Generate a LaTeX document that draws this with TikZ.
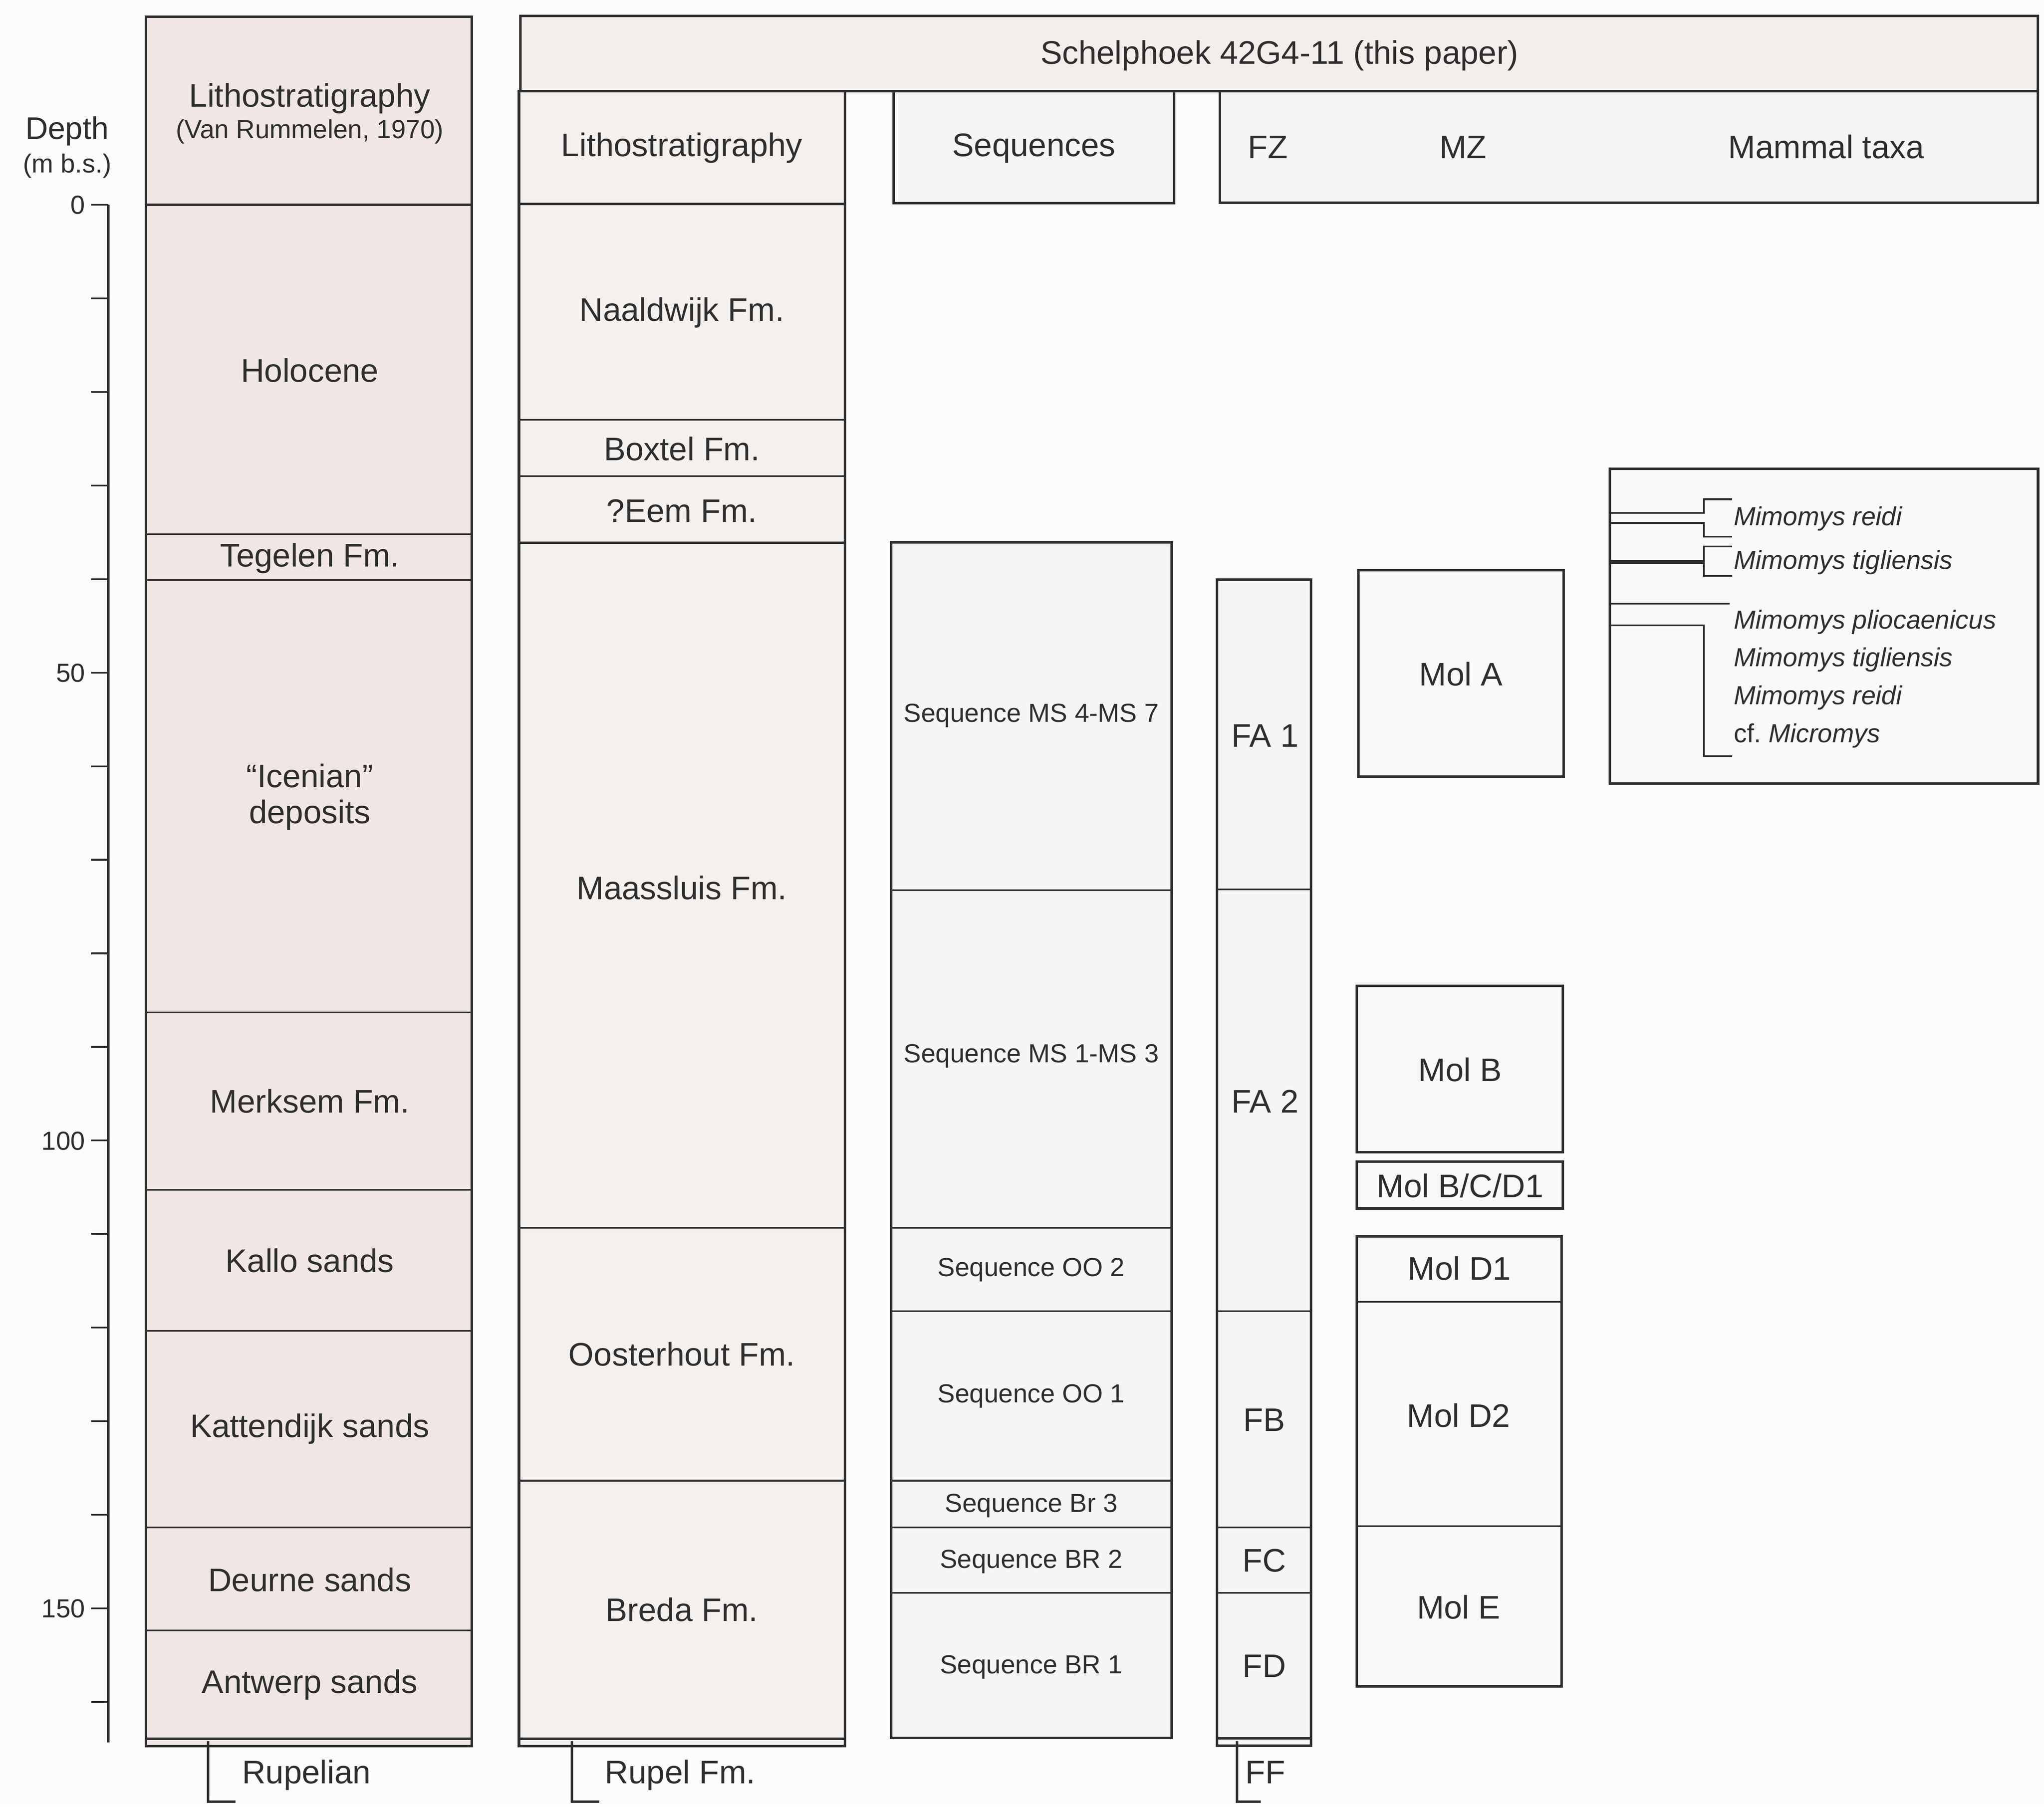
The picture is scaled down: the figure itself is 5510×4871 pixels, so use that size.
\documentclass[tikz,border=0pt]{standalone}
\usepackage{tikz}
\usepackage{fontspec}
\setmainfont{Liberation Sans}
\definecolor{pagebg}{HTML}{FCFCFC}
\definecolor{colonefill}{HTML}{F0E7E5}
\definecolor{coltwofill}{HTML}{F4F0EE}
\definecolor{headfill}{HTML}{F3EEEB}
\definecolor{seqfill}{HTML}{F6F5F4}
\definecolor{molfill}{HTML}{F9F9F9}
\definecolor{ink}{HTML}{2E2E2E}
\begin{document}
\begin{tikzpicture}[x=0.01cm,y=-0.01cm,
  bigtxt/.style={font=\fontsize{25}{30}\selectfont, text=ink, inner sep=0pt, text height=17.9pt, text depth=0pt},
  smalltxt/.style={font=\fontsize{20}{24}\selectfont, text=ink, inner sep=0pt, text height=14.3pt, text depth=0pt},
  taxon/.style={font=\fontsize{20}{24}\selectfont\itshape, text=ink, inner sep=0pt, text height=14.3pt, text depth=0pt, anchor=west},
  ln/.style={draw=ink, line width=1.3pt},
  thk/.style={draw=ink, line width=1.9pt},
  vthk/.style={draw=ink, line width=3pt},
]
\useasboundingbox (0,0) rectangle (5510,4871);
\fill[pagebg] (0,0) rectangle (5510,4871);

% ---------------- Depth axis ----------------
\node[smalltxt, font=\fontsize{24}{28}\selectfont, text height=17.2pt] (depthlbl) at (181,345) {Depth};
\node[smalltxt] (depthunit) at (181,440) {(m b.s.)};
\coordinate (axtop) at (292,552);
\coordinate (axbot) at (292,4698);
\draw[thk] (axtop) -- (axbot);
\foreach \d in {0,10,...,160} {
  \coordinate (tk\d) at (292,552+25.23*\d);
  \draw[ln] (tk\d) -- ++(-46,0);
}
\foreach \d in {0,50,100,150} {
  \node[smalltxt, anchor=east] (dl\d) at (230,552+25.23*\d) {\d};
}

% ---------------- Column 1: Van Rummelen ----------------
\filldraw[colonefill, thk] (393,45) rectangle (1272,4708);
\foreach \yy in {1440,1564,2730,3208,3588,4118,4396} {
  \draw[ln] (393,\yy) -- (1272,\yy);
}
\draw[thk] (393,552) -- (1272,552);
\draw[thk] (393,4688) -- (1272,4688);
\node[bigtxt] (c1head) at (835,257) {Lithostratigraphy};
\node[smalltxt] (c1ref) at (835,348) {(Van Rummelen, 1970)};
\node[bigtxt] (holo) at (835,998) {Holocene};
\node[bigtxt] (tege) at (835,1496) {Tegelen Fm.};
\node[bigtxt] (icen) at (835,2091) {``Icenian''};
\node[bigtxt] (depo) at (835,2189) {deposits};
\node[bigtxt] (merk) at (835,2969) {Merksem Fm.};
\node[bigtxt] (kall) at (835,3398) {Kallo sands};
\node[bigtxt] (katt) at (835,3844) {Kattendijk sands};
\node[bigtxt] (deur) at (835,4259) {Deurne sands};
\node[bigtxt] (antw) at (835,4533) {Antwerp sands};
\coordinate (rupA) at (561,4695);
\coordinate (rupB) at (561,4858);
\coordinate (rupC) at (635,4858);
\draw[thk] (rupA) -- (rupB) -- (rupC);
\node[bigtxt, anchor=west] (rupl) at (652,4777) {Rupelian};

% ---------------- Schelphoek header ----------------
\filldraw[headfill, thk] (1403,43) rectangle (5493,246);
\node[bigtxt] (schel) at (3449,141) {Schelphoek 42G4-11 (this paper)};

% ---------------- Column 2: Lithostratigraphy (this paper) ----------------
\filldraw[coltwofill, thk] (1399,246) rectangle (2278,4708);
\draw[thk] (1399,550) -- (2278,550);
\foreach \yy in {1132,1284,3310,3992} {
  \draw[ln] (1399,\yy) -- (2278,\yy);
}
\draw[thk] (1399,1463) -- (2278,1463);
\draw[thk] (1399,4688) -- (2278,4688);
\node[bigtxt] (c2head) at (1838,390) {Lithostratigraphy};
\node[bigtxt] (naal) at (1838,834) {Naaldwijk Fm.};
\node[bigtxt] (boxt) at (1838,1210) {Boxtel Fm.};
\node[bigtxt] (eem) at (1838,1376) {?Eem Fm.};
\node[bigtxt] (maas) at (1838,2393) {Maassluis Fm.};
\node[bigtxt] (oost) at (1838,3651) {Oosterhout Fm.};
\node[bigtxt] (bred) at (1838,4340) {Breda Fm.};
\coordinate (rpfA) at (1542,4695);
\coordinate (rpfB) at (1542,4858);
\coordinate (rpfC) at (1616,4858);
\draw[thk] (rpfA) -- (rpfB) -- (rpfC);
\node[bigtxt, anchor=west] (rupfm) at (1630,4777) {Rupel Fm.};

% ---------------- Sequences ----------------
\filldraw[seqfill, thk] (2409,246) rectangle (3165,548);
\node[bigtxt] (seqhead) at (2787,390) {Sequences};
\filldraw[seqfill, thk] (2402,1462) rectangle (3158,4686);
\foreach \yy in {2400,3310,3535,3992,4118,4294} {
  \draw[ln] (2402,\yy) -- (3158,\yy);
}
\node[smalltxt] (s47) at (2780,1922) {Sequence MS 4-MS 7};
\node[smalltxt] (s13) at (2780,2839) {Sequence MS 1-MS 3};
\node[smalltxt] (soo2) at (2780,3416) {Sequence OO 2};
\node[smalltxt] (soo1) at (2780,3756) {Sequence OO 1};
\node[smalltxt] (sbr3) at (2780,4052) {Sequence Br 3};
\node[smalltxt] (sbr2) at (2780,4203) {Sequence BR 2};
\node[smalltxt] (sbr1) at (2780,4487) {Sequence BR 1};

% ---------------- FZ / MZ / Mammal header ----------------
\filldraw[seqfill, thk] (3288,246) rectangle (5493,547);
\node[bigtxt] (fzh) at (3418,395) {FZ};
\node[bigtxt] (mzh) at (3944,395) {MZ};
\node[bigtxt] (mth) at (4923,395) {Mammal taxa};

% ---------------- FZ column ----------------
\filldraw[seqfill, thk] (3281,1563) rectangle (3534,4707);
\foreach \yy in {2398,3535,4118,4294} {
  \draw[ln] (3281,\yy) -- (3534,\yy);
}
\draw[thk] (3281,4687) -- (3534,4687);
\node[bigtxt] (fa1) at (3410,1982) {FA 1};
\node[bigtxt] (fa2) at (3410,2969) {FA 2};
\node[bigtxt] (fb) at (3408,3827) {FB};
\node[bigtxt] (fc) at (3408,4206) {FC};
\node[bigtxt] (fd) at (3408,4491) {FD};
\coordinate (ffA) at (3335,4695);
\coordinate (ffB) at (3335,4858);
\coordinate (ffC) at (3398,4858);
\draw[thk] (ffA) -- (ffB) -- (ffC);
\node[bigtxt, anchor=west] (ff) at (3357,4777) {FF};

% ---------------- MZ boxes ----------------
\filldraw[molfill, thk] (3662,1537) rectangle (4215,2094);
\node[bigtxt] (mola) at (3938,1817) {Mol A};
\filldraw[molfill, thk] (3658,2658) rectangle (4213,3107);
\node[bigtxt] (molb) at (3936,2884) {Mol B};
\filldraw[molfill, thk] (3658,3132) rectangle (4213,3258);
\node[bigtxt] (molbcd) at (3936,3197) {Mol B/C/D1};
\filldraw[molfill, thk] (3657,3333) rectangle (4210,4547);
\draw[ln] (3657,3510) -- (4210,3510);
\draw[ln] (3657,4115) -- (4210,4115);
\node[bigtxt] (mold1) at (3934,3419) {Mol D1};
\node[bigtxt] (mold2) at (3932,3816) {Mol D2};
\node[bigtxt] (mole) at (3932,4333) {Mol E};

% ---------------- Mammal taxa ----------------
\filldraw[molfill, thk] (4340,1264) rectangle (5494,2113);
\draw[ln] (4340,1383) -- (4593,1383) -- (4593,1346) -- (4669,1346);
\draw[ln] (4340,1410) -- (4593,1410) -- (4593,1447) -- (4669,1447);
\draw[vthk] (4340,1515) -- (4593,1515);
\draw[ln] (4669,1473) -- (4593,1473) -- (4593,1553) -- (4669,1553);
\draw[ln] (4340,1628) -- (4663,1628);
\draw[ln] (4340,1686) -- (4593,1686) -- (4593,2039) -- (4669,2039);
\node[taxon] (t1) at (4673,1391) {Mimomys reidi};
\node[taxon] (t2) at (4673,1509) {Mimomys tigliensis};
\node[taxon] (t3) at (4673,1670) {Mimomys pliocaenicus};
\node[taxon] (t4) at (4673,1772) {Mimomys tigliensis};
\node[taxon] (t5) at (4673,1874) {Mimomys reidi};
\node[taxon, font=\fontsize{20}{24}\selectfont] (t6) at (4673,1977) {cf.~\textit{Micromys}};
\end{tikzpicture}
\end{document}
